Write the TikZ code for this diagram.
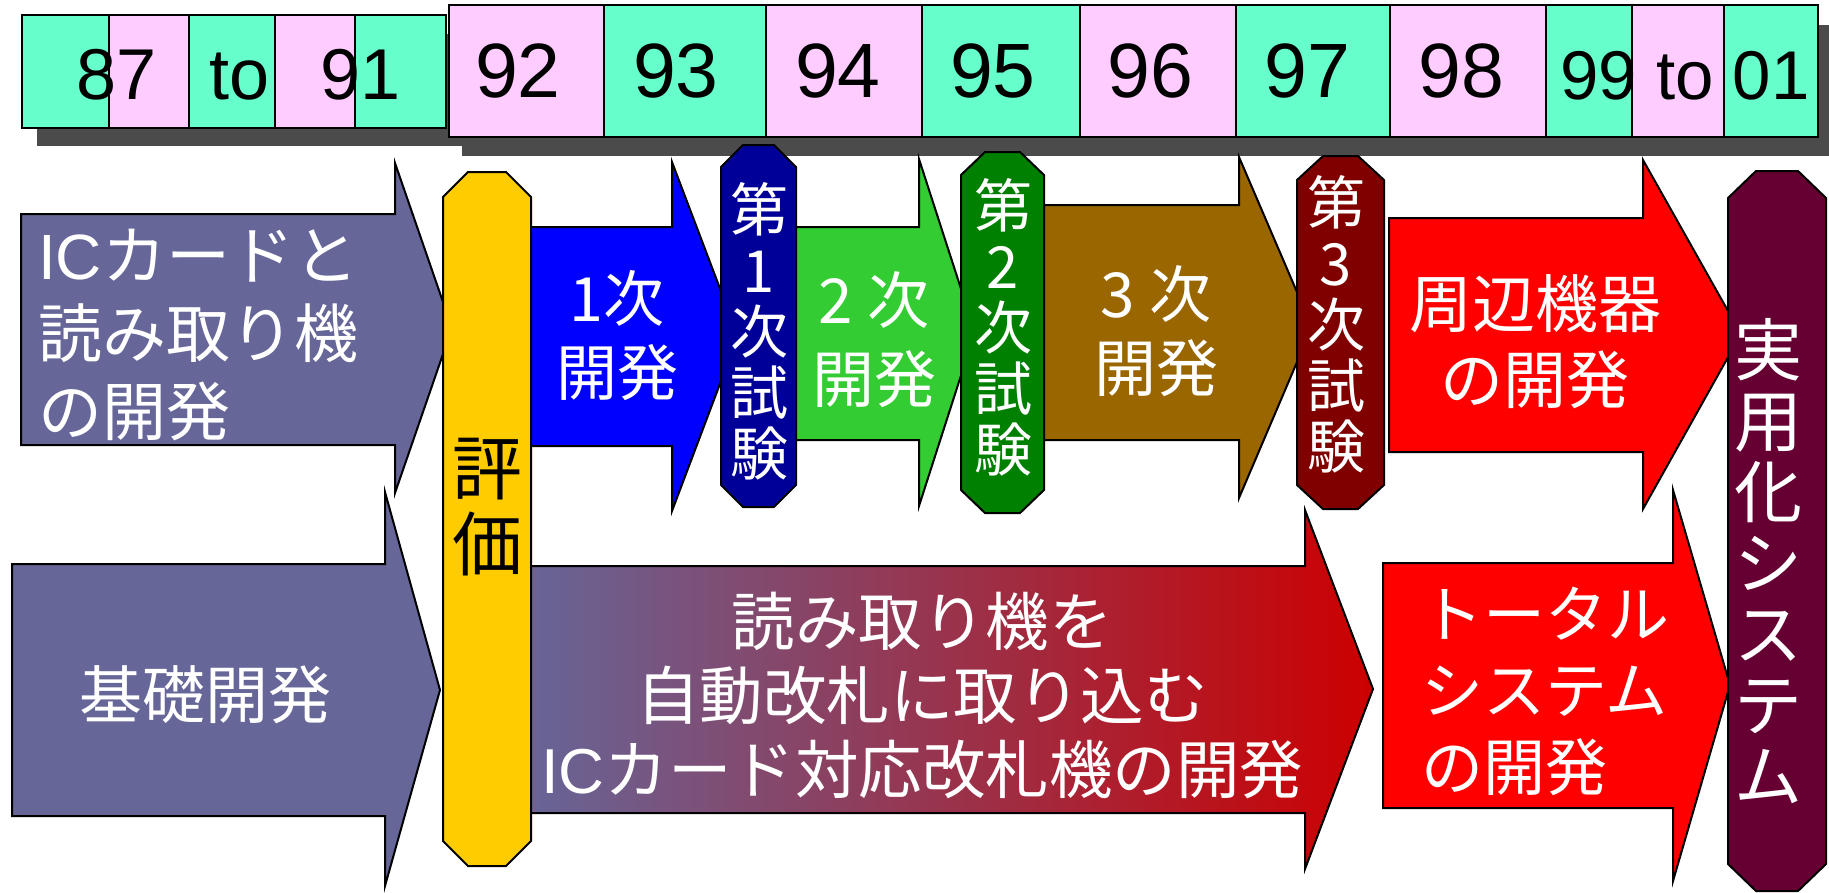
\documentclass[tikz,border=0pt]{standalone}
\usepackage{fontspec}
\setmainfont{Liberation Sans}
\newfontfamily\cjk{Noto Sans CJK JP}
\definecolor{cellG}{HTML}{66FFCC}
\definecolor{cellP}{HTML}{FFCCFF}
\definecolor{shadowC}{HTML}{4B4B4B}
\definecolor{purp}{HTML}{666699}
\definecolor{gold}{HTML}{FFCC00}
\definecolor{blueA}{HTML}{0000FF}
\definecolor{navy}{HTML}{000099}
\definecolor{lgreen}{HTML}{33CC33}
\definecolor{dgreen}{HTML}{008000}
\definecolor{brown}{HTML}{996600}
\definecolor{dred}{HTML}{800000}
\definecolor{redA}{HTML}{FF0000}
\definecolor{gradR}{HTML}{CC0000}
\definecolor{maroon}{HTML}{660033}
\tikzset{
  outl/.style={draw=black, line width=2pt, line join=miter},
  cellbox/.style={draw=black, line width=1.5pt},
  yr/.style={font=\fontsize{77}{77}\selectfont, anchor=base, inner sep=0pt},
  yrs/.style={font=\fontsize{72}{72}\selectfont, anchor=base, inner sep=0pt},
  yrt/.style={font=\fontsize{69}{69}\selectfont, anchor=base, inner sep=0pt},
  lbl/.style={text=white, inner sep=0pt, align=center, font=\cjk\fontsize{62}{76}\selectfont},
  vlbl/.style={text=white, inner sep=0pt, align=center, font=\cjk\fontsize{58}{61}\selectfont},
}
\begin{document}
\begin{tikzpicture}[x=1pt,y=-1pt]
\useasboundingbox (0,0) rectangle (1829,892);
% ---- year bar ----
\fill[shadowC] (37,34) rectangle (462,146);
\fill[shadowC] (462,25) rectangle (1829,156);
\foreach \a/\b/\c in {22/109/cellG,109/189/cellP,189/275/cellG,275/355/cellP,355/446/cellG}
  \draw[cellbox,fill=\c] (\a,15) rectangle (\b,128);
\foreach \a/\b/\c in {449/604/cellP,604/766/cellG,766/922/cellP,922/1080/cellG,1080/1236/cellP,1236/1390/cellG,1390/1546/cellP,1546/1632/cellG,1632/1724/cellP,1724/1818/cellG}
  \draw[cellbox,fill=\c] (\a,5) rectangle (\b,137);
\node[yrs] (y87) at (117,99) {87};
\node[yrs] (yto1) at (240,99) {to};
\node[yrs] (y91) at (361,99) {91};
\node[yr] (y92) at (518,97) {92};
\node[yr] (y93) at (676,97) {93};
\node[yr] (y94) at (838,97) {94};
\node[yr] (y95) at (993,97) {95};
\node[yr] (y96) at (1150,97) {96};
\node[yr] (y97) at (1307,97) {97};
\node[yr] (y98) at (1461,97) {98};
\node[yrt] (y99) at (1685,99) {99 to 01};
% ---- arrows ----
\draw[outl,fill=purp] (21,214) -- (395,214) -- (395,163) -- (452,328) -- (395,493) -- (395,445) -- (21,445) -- cycle;
\draw[outl,fill=purp] (12,564) -- (385,564) -- (385,492) -- (440,690) -- (385,886) -- (385,816) -- (12,816) -- cycle;
\draw[outl,fill=blueA] (520,227) -- (672,227) -- (672,162) -- (738,336) -- (672,511) -- (672,446) -- (520,446) -- cycle;
\draw[outl,fill=lgreen] (780,227) -- (919,227) -- (919,159) -- (975,332) -- (919,506) -- (919,440) -- (780,440) -- cycle;
\draw[outl,fill=brown] (1030,205) -- (1239,205) -- (1239,157) -- (1312,327) -- (1239,498) -- (1239,440) -- (1030,440) -- cycle;
\draw[outl,left color=purp,right color=gradR] (520,566) -- (1305,566) -- (1305,510) -- (1373,689) -- (1305,869) -- (1305,813) -- (520,813) -- cycle;
\draw[outl,fill=redA] (1389,218) -- (1643,218) -- (1643,160) -- (1741,334) -- (1643,509) -- (1643,452) -- (1389,452) -- cycle;
\draw[outl,fill=redA] (1383,563) -- (1673,563) -- (1673,490) -- (1730,685) -- (1673,881) -- (1673,808) -- (1383,808) -- cycle;
% ---- bars ----
\draw[outl,fill=gold] (443,197) -- (468,172) -- (506,172) -- (531,197) -- (531,841) -- (506,866) -- (468,866) -- (443,841) -- cycle;
\draw[outl,fill=navy] (721,167) -- (743,145) -- (774,145) -- (796,167) -- (796,485) -- (774,507) -- (743,507) -- (721,485) -- cycle;
\draw[outl,fill=dgreen] (961,175) -- (985,152) -- (1020,152) -- (1044,175) -- (1044,490) -- (1020,513) -- (985,513) -- (961,490) -- cycle;
\draw[outl,fill=dred] (1297,180) -- (1323,156) -- (1358,156) -- (1384,180) -- (1384,485) -- (1358,509) -- (1323,509) -- (1297,485) -- cycle;
\draw[outl,fill=maroon] (1728,198) -- (1756,171) -- (1798,171) -- (1826,198) -- (1826,864) -- (1798,891) -- (1756,891) -- (1728,864) -- cycle;
% ---- labels ----
\node[lbl,align=left,anchor=west,font=\cjk\fontsize{64}{78}\selectfont] (tA1) at (38,335) {{\rmfamily IC}カードと\\読み取り機\\の開発};
\node[lbl,font=\cjk\fontsize{63}{63}\selectfont] (tKiso) at (205,695) {基礎開発};
\node[lbl,font=\cjk\fontsize{61}{74}\selectfont] (tBlue) at (617,336) {1次\\開発};
\node[lbl,font=\cjk\fontsize{62}{79}\selectfont] (tGreen) at (874,340) {2 次\\開発};
\node[lbl,font=\cjk\fontsize{62}{74}\selectfont] (tBrown) at (1156,331) {3 次\\開発};
\node[lbl,font=\cjk\fontsize{63}{76}\selectfont] (tRed1) at (1535,342) {周辺機器\\の開発};
\node[lbl,align=left,anchor=west,font=\cjk\fontsize{62}{76.5}\selectfont] (tRed2) at (1421,691) {トータル\\システム\\の開発};
\node[lbl,font=\cjk\fontsize{63.5}{74}\selectfont] (tGrad) at (922,695) {読み取り機を\\自動改札に取り込む\\{\rmfamily IC}カード対応改札機の開発};
\node[lbl,text=black,font=\cjk\fontsize{70}{76}\selectfont] (tHyoka) at (487,507) {評\\価};
\node[vlbl] (tT1) at (759,331) {第\\1\\次\\試\\験};
\node[vlbl] (tT2) at (1003,327) {第\\2\\次\\試\\験};
\node[vlbl] (tT3) at (1336,324) {第\\3\\次\\試\\験};
\node[lbl,font=\cjk\fontsize{68}{71}\selectfont] (tJitsu) at (1768,561) {実\\用\\化\\シ\\ス\\テ\\ム};
\end{tikzpicture}
\end{document}
